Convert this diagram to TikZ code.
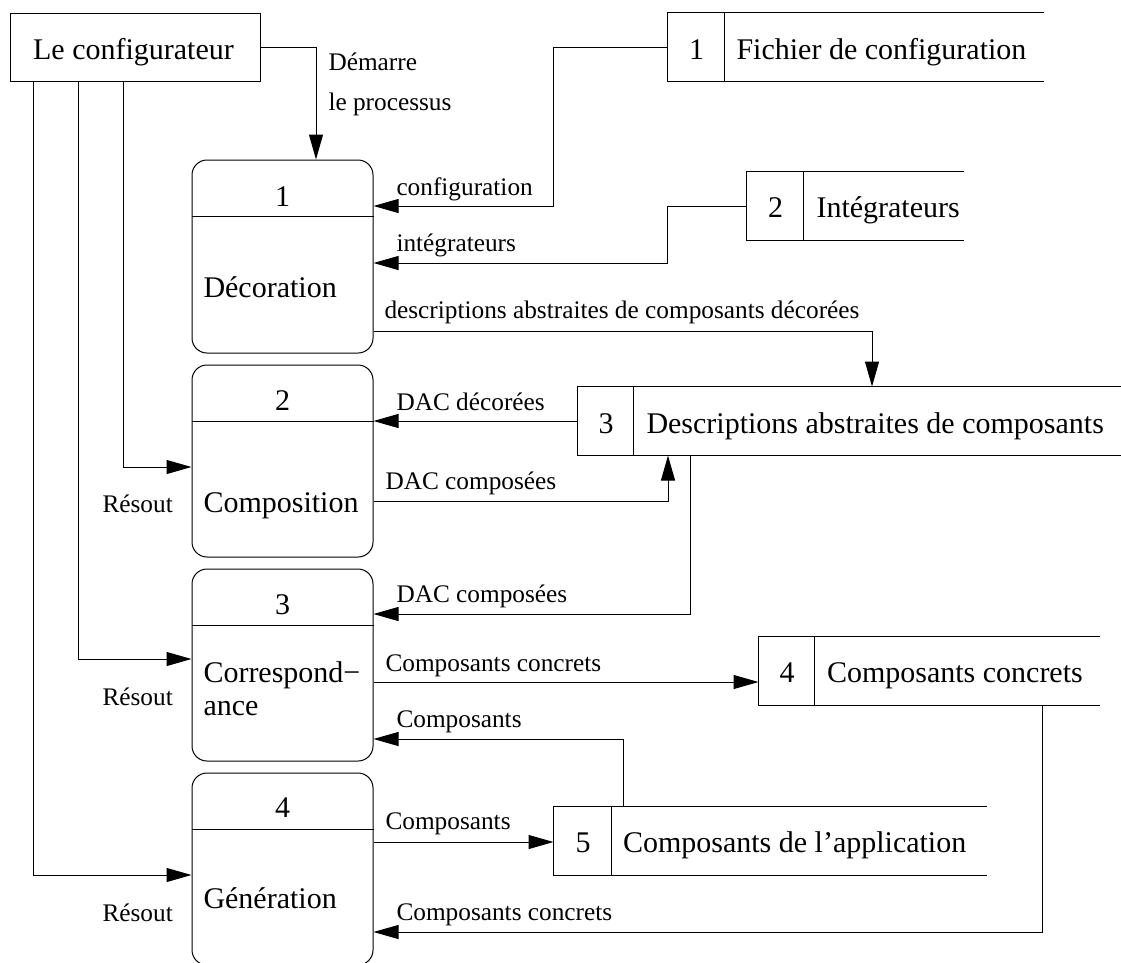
\documentclass[tikz,border=0pt]{standalone}
\usepackage{fontspec}
\setmainfont{Liberation Serif}
\usetikzlibrary{arrows.meta,calc}
\begin{document}
\begin{tikzpicture}[x=1pt,y=-1pt,
  line width=1pt,
  big/.style={font=\fontsize{30}{36}\selectfont, inner sep=0pt},
  lab/.style={font=\fontsize{25.3}{30}\selectfont, inner sep=0pt, anchor=base west},
  arr/.style={-{Triangle[length=25pt,width=14pt]}},
  proc/.style={draw, rounded corners=15pt, minimum width=181pt, minimum height=192pt, inner sep=0pt},
  storebox/.style={minimum height=68pt, inner sep=0pt},
]
\useasboundingbox (0,0) rectangle (1121,962);

% configurator
\node[draw, minimum width=250pt, minimum height=68pt, inner sep=0pt] (conf) at (135,47) {};
\node[big, anchor=base] (conft) at (133.5,59) {Le configurateur};

% processes
\node[proc, minimum height=193pt] (p1) at (282.5,256.5) {};
\node[proc] (p2) at (282.5,461) {};
\node[proc] (p3) at (282.5,665) {};
\node[proc] (p4) at (282.5,869) {};
\foreach \p in {p1,p2,p3,p4}
  \draw ([yshift=-57pt]\p.north west) -- ([yshift=-57pt]\p.north east);
\node[big, anchor=base] (p1n) at (282.5,206) {1};
\node[big, anchor=base] (p2n) at (282.5,410) {2};
\node[big, anchor=base] (p3n) at (282.5,614) {3};
\node[big, anchor=base] (p4n) at (282.5,817) {4};
\node[big, anchor=base west] (p1t) at (203,297) {Décoration};
\node[big, anchor=base west] (p2t) at (203,512) {Composition};
\node[big, anchor=base west] (p3ta) at (203,682) {Correspond−};
\node[big, anchor=base west] (p3tb) at (203,715) {ance};
\node[big, anchor=base west] (p4t) at (203,908) {Génération};

% stores
\node[storebox, minimum width=375pt] (s1) at (855.5,47) {};
\node[storebox, minimum width=216pt] (s2) at (855,206) {};
\node[storebox, minimum width=543pt] (s3) at (849.5,421) {};
\node[storebox, minimum width=340pt] (s4) at (929,671) {};
\node[storebox, minimum width=432pt] (s5) at (770,841) {};
\foreach \s/\d in {s1/57,s2/57,s3/56,s4/56,s5/57.5}{
  \draw (\s.north east) -- (\s.north west) -- (\s.south west) -- (\s.south east);
  \draw ([xshift=\d pt]\s.north west) -- ([xshift=\d pt]\s.south west);
}
\node[big, anchor=base] (s1n) at (696.5,59) {1};
\node[big, anchor=base west] (s1t) at (736,59) {Fichier de configuration};
\node[big, anchor=base] (s2n) at (775.5,217) {2};
\node[big, anchor=base west] (s2t) at (816,217) {Intégrateurs};
\node[big, anchor=base] (s3n) at (606,433) {3};
\node[big, anchor=base west] (s3t) at (646,433) {Descriptions abstraites de composants};
\node[big, anchor=base] (s4n) at (787,682) {4};
\node[big, anchor=base west] (s4t) at (826.5,682) {Composants concrets};
\node[big, anchor=base] (s5n) at (583,852) {5};
\node[big, anchor=base west] (s5t) at (622.5,852) {Composants de l’application};

% connectors
\draw[arr] (conf.east) -| ([xshift=33.5pt]p1.north);
\draw[arr] (s1.west) -- ++(-114,0) |- ([yshift=50.5pt]p1.east);
\draw[arr] (s2.west) -- ++(-79,0) |- ([yshift=-6.5pt]p1.east);
\draw[arr] ([yshift=-74.5pt]p1.east) -| ([xshift=22.5pt]s3.north);
\draw[arr] (s3.west) -- ([yshift=40pt]p2.east);
\draw[arr] ([yshift=-40pt]p2.east) -| ([xshift=-181.5pt]s3.south);
\draw[arr] ([xshift=-159.5pt]s3.south) |- ([yshift=51pt]p3.east);
\draw[arr] ([xshift=-12pt]conf.south) |- ([yshift=-6pt]p2.west);
\draw[arr] ([xshift=-57pt]conf.south) |- ([yshift=6pt]p3.west);
\draw[arr] ([xshift=-102pt]conf.south) |- ([yshift=-6pt]p4.west);
\draw[arr] ([yshift=-17pt]p3.east) -- ([yshift=-11pt]s4.west);
\draw[arr] ([xshift=-147pt]s5.north) |- ([yshift=-74pt]p3.east);
\draw[arr] ([yshift=27pt]p4.east) -- ([yshift=-1pt]s5.west);
\draw[arr] ([xshift=113pt]s4.south) |- ([yshift=-63pt]p4.east);

% labels
\node[lab] (l1a) at (328,70) {Démarre};
\node[lab] (l1b) at (328,110) {le processus};
\node[lab] (l2) at (396,195) {configuration};
\node[lab] (l3) at (396,251) {intégrateurs};
\node[lab] (l4) at (384,318) {descriptions abstraites de composants décorées};
\node[lab] (l5) at (396,410) {DAC décorées};
\node[lab] (l6) at (385,489) {DAC composées};
\node[lab] (l7) at (396,602) {DAC composées};
\node[lab] (l8) at (385,671) {Composants concrets};
\node[lab] (l9) at (396,727) {Composants};
\node[lab] (l10) at (385,829) {Composants};
\node[lab] (l11) at (396,920) {Composants concrets};
\node[lab] (r1) at (102,512) {Résout};
\node[lab] (r2) at (102,705) {Résout};
\node[lab] (r3) at (102,921) {Résout};
\end{tikzpicture}
\end{document}
